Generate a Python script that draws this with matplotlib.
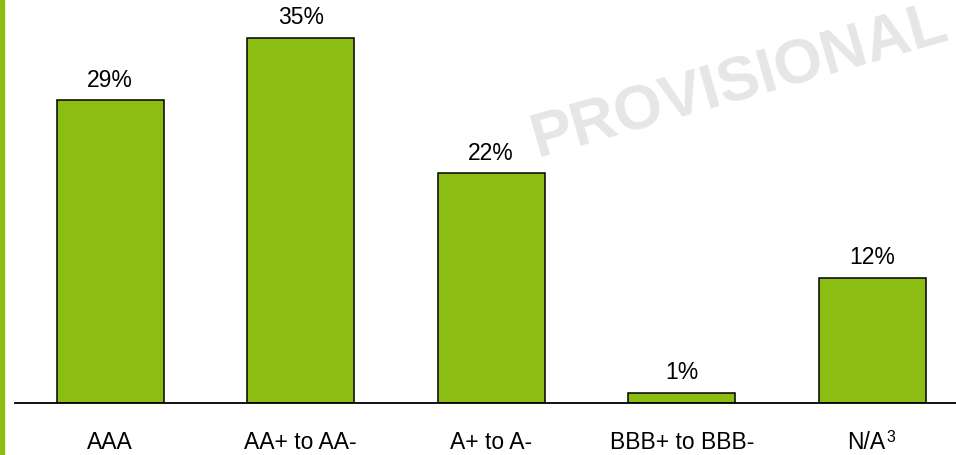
import matplotlib
matplotlib.use("Agg")
import matplotlib.pyplot as plt
from matplotlib.patches import Rectangle

categories = ["AAA", "AA+ to AA-", "A+ to A-", "BBB+ to BBB-", "N/A"]
footnotes = ["", "", "", "", "3"]
shares = [29, 35, 22, 1, 12]
value_labels = ["29%", "35%", "22%", "1%", "12%"]

GREEN = "#8BBD12"
PX = 0.72  # points per pixel at 100 dpi

plt.rcParams["font.family"] = ["Liberation Sans", "DejaVu Sans"]

W, H = 956, 455
fig = plt.figure(figsize=(W / 100, H / 100), dpi=100)
ax = fig.add_axes([15 / W, 52 / H, 1 - 15 / W, 403 / H])

x = list(range(len(categories)))
ax.bar(x, shares, width=0.56, color=GREEN, edgecolor="black", linewidth=1.1, zorder=3)

for xi, v, lab in zip(x, shares, value_labels):
    ax.annotate(lab, (xi, v), xytext=(0, 6), textcoords="offset points",
                ha="center", va="bottom", fontsize=16.5, color="black", zorder=4)

# category labels under the baseline, with optional superscript footnote marks
xtrans = ax.get_xaxis_transform()
for xi, cat, note in zip(x, categories, footnotes):
    if note:
        ax.annotate(cat, (xi, 0), xycoords=xtrans, xytext=(13 * PX, -46 * PX),
                    textcoords="offset points", ha="right", va="baseline",
                    fontsize=16.5, annotation_clip=False)
        ax.annotate(note, (xi, 0), xycoords=xtrans, xytext=(14 * PX, -39.5 * PX),
                    textcoords="offset points", ha="left", va="baseline",
                    fontsize=11.5, annotation_clip=False)
    else:
        ax.annotate(cat, (xi, 0), xycoords=xtrans, xytext=(0, -46 * PX),
                    textcoords="offset points", ha="center", va="baseline",
                    fontsize=16.5, annotation_clip=False)

ax.set_xlim(-0.5, 4.44)
ax.set_ylim(0, 38.6)
ax.set_xticks([])
ax.set_yticks([])
for side in ("top", "right", "left"):
    ax.spines[side].set_visible(False)
ax.spines["bottom"].set_linewidth(1.3)
ax.spines["bottom"].set_zorder(5)

# watermark
fig.text(745 / W, 1 - 98 / H, "PROVISIONAL", fontsize=45, fontweight="bold",
         color="#E6E6E6", rotation=16, ha="center", va="baseline",
         rotation_mode="anchor", zorder=0)

# accent strip on the left edge
fig.patches.append(Rectangle((0, 0), 4 / W, 1, transform=fig.transFigure,
                             color=GREEN, zorder=10))

fig.savefig("out.png", dpi=100)
